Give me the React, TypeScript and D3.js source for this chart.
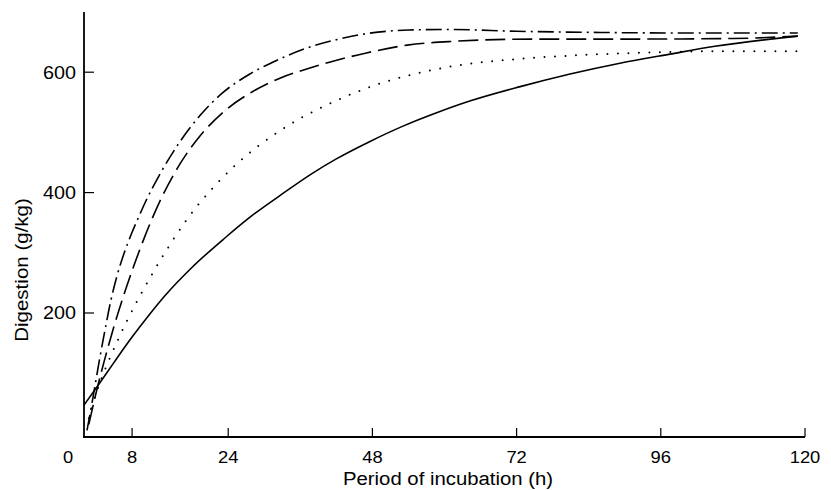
import React from 'react'
import * as d3 from 'd3'

// digestion curves (g/kg vs hours)
const solidHours = [0, 2.5, 5, 8, 10.7, 13.5, 18, 23.5, 28, 32.6, 38, 42, 47.6, 53, 58.8, 64.2, 72.6, 80.9, 89.2, 97.5, 105, 118.8]
const solidValues = [47, 82, 118, 160, 195, 229, 276, 325, 362, 395, 432, 456, 485, 510, 533, 552, 576, 597, 615, 630, 643, 660]

const dottedHours = [0.8, 2.5, 4, 5.5, 7, 8.8, 10.8, 12.6, 14.6, 17.1, 21.1, 24.8, 28.8, 31.6, 36.5, 41.4, 48, 55, 62, 70, 84, 95, 106, 120]
const dottedValues = [25, 80, 118, 152, 184, 219, 255, 286, 318, 355, 404, 442, 476, 496, 526, 550, 577, 597, 611, 620, 629, 633, 635, 635]

const dashedHours = [0.8, 2.2, 3.5, 5, 6.5, 8, 10, 12.6, 16, 19.3, 23.1, 28.1, 32.6, 37.6, 41, 47, 53.8, 61, 75, 91, 108, 118.8]
const dashedValues = [15, 75, 125, 178, 226, 270, 324, 385, 448, 494, 533, 568, 590, 607, 617, 632, 645, 651, 655, 655, 656, 660]

const dashDotHours = [0.5, 1.5, 2.5, 3.5, 4.5, 5.5, 6.7, 8, 9.3, 10.2, 12.6, 16, 19.3, 23.1, 27.6, 31.5, 36.5, 42, 47, 54, 61, 72, 86, 102, 118.8]
const dashDotValues = [5, 60, 118, 172, 222, 262, 300, 334, 364, 384, 430, 485, 528, 566, 597, 617, 638, 654, 664, 670, 671, 668, 666, 665, 665]

const xTicks = [8, 24, 48, 72, 96, 120]
const yTicks = [200, 400, 600]

const width = 831
const height = 490

const App = () => {
  const xScale = d3.scaleLinear().domain([0, 120]).range([84, 805])
  const yScale = d3.scaleLinear().domain([-6, 700]).range([437, 12])

  const line = d3.line<[number, number]>()
    .x(d => xScale(d[0]))
    .y(d => yScale(d[1]))
    .curve(d3.curveMonotoneX)

  const zip = (hs: number[], vs: number[]) => hs.map((h, i) => [h, vs[i]] as [number, number])

  const series = [
    { pts: zip(solidHours, solidValues), dash: null, w: 1.6, cap: 'butt' },
    { pts: zip(dottedHours, dottedValues), dash: '0 10.5', w: 2, cap: 'round' },
    { pts: zip(dashedHours, dashedValues), dash: '20 7', w: 1.6, cap: 'butt' },
    { pts: zip(dashDotHours, dashDotValues), dash: '16 5 2 5', w: 1.6, cap: 'butt' },
  ]

  const font = 'Liberation Sans, Arial, sans-serif'
  const x0 = xScale(0)
  const yBase = yScale.range()[0]

  return (
    <svg width={width} height={height} style={{ position: 'absolute', left: 0, top: 0, background: 'white' }}>
      {/* axes */}
      <line x1={x0} x2={x0} y1={yScale.range()[1]} y2={yBase} stroke="black" strokeWidth={1.8} />
      <line x1={x0 - 1} x2={xScale(120)} y1={yBase} y2={yBase} stroke="black" strokeWidth={1.8} />

      {yTicks.map(t => (
        <g key={t}>
          <line x1={x0} x2={x0 + 10} y1={yScale(t)} y2={yScale(t)} stroke="black" strokeWidth={1.2} />
          <text transform={`translate(${x0 - 8},${yScale(t)}) scale(1.1,1)`} dy="0.36em" textAnchor="end"
            fontSize={18} fontFamily={font}>{t}</text>
        </g>
      ))}

      {xTicks.map(t => (
        <g key={t}>
          <line x1={xScale(t)} x2={xScale(t)} y1={yBase} y2={yBase - 9} stroke="black" strokeWidth={1.2} />
          <text transform={`translate(${xScale(t)},463) scale(1.08,1)`} textAnchor="middle"
            fontSize={17} fontFamily={font}>{t}</text>
        </g>
      ))}
      <text transform={`translate(${x0 - 16},463) scale(1.08,1)`} textAnchor="middle" fontSize={17} fontFamily={font}>0</text>

      <text transform="translate(448,485) scale(1.13,1)" textAnchor="middle" fontSize={18} fontFamily={font}>Period of incubation (h)</text>
      <text transform="translate(28,270) rotate(-90) scale(1.14,1)" textAnchor="middle" fontSize={18} fontFamily={font}>Digestion (g/kg)</text>

      {/* curves */}
      {series.map((s, i) => (
        <path key={i} d={line(s.pts) || ''} fill="none" stroke="black" strokeWidth={s.w}
          strokeDasharray={s.dash || undefined} strokeLinecap={s.cap as any} />
      ))}
    </svg>
  )
}

export default App
